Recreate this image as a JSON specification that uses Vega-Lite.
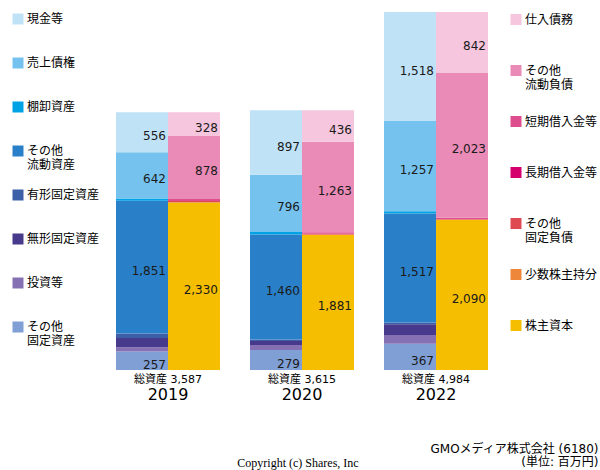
{
  "$schema": "https://vega.github.io/schema/vega-lite/v6.json",
  "width": 402,
  "height": 358,
  "autosize": {"type": "none"},
  "padding": {"left": 101, "top": 12, "right": 97, "bottom": 100},
  "background": "white",
  "config": {
    "view": {"stroke": null},
    "font": "DejaVu Sans, Noto Sans CJK JP, sans-serif"
  },
  "title": {
    "text": "Copyright (c) Shares, Inc",
    "orient": "top",
    "anchor": "middle",
    "frame": "group",
    "font": "Liberation Serif",
    "fontSize": 12,
    "fontWeight": "normal",
    "color": "#000000",
    "baseline": "alphabetic",
    "offset": 0,
    "dx": -4,
    "dy": 485
  },
  "datasets": {
    "bs": [
      {"year": "2019", "side": "資産", "item": "その他固定資産", "k": 1, "value": 257},
      {"year": "2019", "side": "資産", "item": "投資等", "k": 2, "value": 60},
      {"year": "2019", "side": "資産", "item": "無形固定資産", "k": 3, "value": 130},
      {"year": "2019", "side": "資産", "item": "有形固定資産", "k": 4, "value": 60},
      {"year": "2019", "side": "資産", "item": "その他流動資産", "k": 5, "value": 1851},
      {"year": "2019", "side": "資産", "item": "棚卸資産", "k": 6, "value": 31},
      {"year": "2019", "side": "資産", "item": "売上債権", "k": 7, "value": 642},
      {"year": "2019", "side": "資産", "item": "現金等", "k": 8, "value": 556},
      {"year": "2019", "side": "負債", "item": "株主資本", "k": 1, "value": 2330},
      {"year": "2019", "side": "負債", "item": "少数株主持分", "k": 2, "value": 8},
      {"year": "2019", "side": "負債", "item": "その他固定負債", "k": 3, "value": 15},
      {"year": "2019", "side": "負債", "item": "長期借入金等", "k": 4, "value": 0},
      {"year": "2019", "side": "負債", "item": "短期借入金等", "k": 5, "value": 28},
      {"year": "2019", "side": "負債", "item": "その他流動負債", "k": 6, "value": 878},
      {"year": "2019", "side": "負債", "item": "仕入債務", "k": 7, "value": 328},
      {"year": "2020", "side": "資産", "item": "その他固定資産", "k": 1, "value": 279},
      {"year": "2020", "side": "資産", "item": "投資等", "k": 2, "value": 70},
      {"year": "2020", "side": "資産", "item": "無形固定資産", "k": 3, "value": 55},
      {"year": "2020", "side": "資産", "item": "有形固定資産", "k": 4, "value": 22},
      {"year": "2020", "side": "資産", "item": "その他流動資産", "k": 5, "value": 1460},
      {"year": "2020", "side": "資産", "item": "棚卸資産", "k": 6, "value": 36},
      {"year": "2020", "side": "資産", "item": "売上債権", "k": 7, "value": 796},
      {"year": "2020", "side": "資産", "item": "現金等", "k": 8, "value": 897},
      {"year": "2020", "side": "負債", "item": "株主資本", "k": 1, "value": 1881},
      {"year": "2020", "side": "負債", "item": "少数株主持分", "k": 2, "value": 5},
      {"year": "2020", "side": "負債", "item": "その他固定負債", "k": 3, "value": 10},
      {"year": "2020", "side": "負債", "item": "長期借入金等", "k": 4, "value": 0},
      {"year": "2020", "side": "負債", "item": "短期借入金等", "k": 5, "value": 20},
      {"year": "2020", "side": "負債", "item": "その他流動負債", "k": 6, "value": 1263},
      {"year": "2020", "side": "負債", "item": "仕入債務", "k": 7, "value": 436},
      {"year": "2022", "side": "資産", "item": "その他固定資産", "k": 1, "value": 367},
      {"year": "2022", "side": "資産", "item": "投資等", "k": 2, "value": 120},
      {"year": "2022", "side": "資産", "item": "無形固定資産", "k": 3, "value": 150},
      {"year": "2022", "side": "資産", "item": "有形固定資産", "k": 4, "value": 25},
      {"year": "2022", "side": "資産", "item": "その他流動資産", "k": 5, "value": 1517},
      {"year": "2022", "side": "資産", "item": "棚卸資産", "k": 6, "value": 30},
      {"year": "2022", "side": "資産", "item": "売上債権", "k": 7, "value": 1257},
      {"year": "2022", "side": "資産", "item": "現金等", "k": 8, "value": 1518},
      {"year": "2022", "side": "負債", "item": "株主資本", "k": 1, "value": 2090},
      {"year": "2022", "side": "負債", "item": "少数株主持分", "k": 2, "value": 4},
      {"year": "2022", "side": "負債", "item": "その他固定負債", "k": 3, "value": 8},
      {"year": "2022", "side": "負債", "item": "長期借入金等", "k": 4, "value": 0},
      {"year": "2022", "side": "負債", "item": "短期借入金等", "k": 5, "value": 17},
      {"year": "2022", "side": "負債", "item": "その他流動負債", "k": 6, "value": 2023},
      {"year": "2022", "side": "負債", "item": "仕入債務", "k": 7, "value": 842}
    ],
    "totals": [
      {"year": "2019", "label": "総資産 3,587"},
      {"year": "2020", "label": "総資産 3,615"},
      {"year": "2022", "label": "総資産 4,984"}
    ]
  },
  "encoding": {
    "x": {
      "field": "year",
      "type": "nominal",
      "scale": {"paddingInner": 0.224, "paddingOuter": 0.112},
      "axis": {
        "title": ["GMOメディア株式会社 (6180)", "(単位: 百万円)"],
        "labelAngle": 0,
        "domain": false,
        "ticks": false,
        "labelFontSize": 16,
        "labelPadding": 16,
        "labelColor": "#000000",
        "titleX": 497,
        "titleY": 82,
        "titleAlign": "right",
        "titleFontSize": 12,
        "titleFontWeight": "normal",
        "titleColor": "#000000",
        "titleBaseline": "alphabetic",
        "titleLineHeight": 13
      }
    }
  },
  "layer": [
    {
      "data": {"name": "bs"},
      "transform": [{"filter": "datum.side == '資産'"}],
      "mark": {"type": "bar"},
      "encoding": {
        "xOffset": {"field": "side", "type": "nominal", "scale": {"domain": ["資産", "負債"], "paddingInner": 0, "paddingOuter": 0}},
        "y": {"field": "value", "type": "quantitative", "stack": "zero", "scale": {"domain": [0, 4984], "nice": false}, "axis": null},
        "order": {"field": "k", "type": "quantitative"},
        "color": {
          "field": "item",
          "type": "nominal",
          "scale": {
            "domain": ["現金等", "売上債権", "棚卸資産", "その他流動資産", "有形固定資産", "無形固定資産", "投資等", "その他固定資産"],
            "range": ["#c0e2f7", "#75c2ef", "#00a2e6", "#2a80c8", "#3c5fa8", "#473a8c", "#8470b2", "#7f9fd5"]
          },
          "legend": {
            "orient": "none",
            "legendX": -89,
            "legendY": -15,
            "title": null,
            "padding": 0,
            "clipHeight": 44,
            "rowPadding": 0,
            "symbolType": "square",
            "symbolSize": 121,
            "symbolStrokeWidth": 0,
            "symbolOpacity": 1,
            "labelFontSize": 12,
            "labelColor": "#000000",
            "labelOffset": 3,
            "labelBaseline": "alphabetic",
            "labelLimit": 0,
            "labelExpr": "datum.label == 'その他流動資産' ? ['その他', '流動資産'] : datum.label == 'その他固定資産' ? ['その他', '固定資産'] : datum.label",
            "encode": {"labels": {"update": {"dy": {"value": 4}}}}
          }
        }
      }
    },
    {
      "data": {"name": "bs"},
      "transform": [{"filter": "datum.side == '負債'"}],
      "mark": {"type": "bar"},
      "encoding": {
        "xOffset": {"field": "side", "type": "nominal", "scale": {"domain": ["資産", "負債"], "paddingInner": 0, "paddingOuter": 0}},
        "y": {"field": "value", "type": "quantitative", "stack": "zero"},
        "order": {"field": "k", "type": "quantitative"},
        "color": {
          "field": "item",
          "type": "nominal",
          "scale": {
            "domain": ["仕入債務", "その他流動負債", "短期借入金等", "長期借入金等", "その他固定負債", "少数株主持分", "株主資本"],
            "range": ["#f5c6dd", "#e98bb6", "#de4d8e", "#d6006d", "#df4a52", "#ee873a", "#f6be00"]
          },
          "legend": {
            "orient": "none",
            "legendX": 409,
            "legendY": -18,
            "title": null,
            "padding": 0,
            "clipHeight": 51,
            "rowPadding": 0,
            "symbolType": "square",
            "symbolSize": 121,
            "symbolStrokeWidth": 0,
            "symbolOpacity": 1,
            "labelFontSize": 12,
            "labelColor": "#000000",
            "labelOffset": 3,
            "labelBaseline": "alphabetic",
            "labelLimit": 0,
            "labelExpr": "datum.label == 'その他流動負債' ? ['その他', '流動負債'] : datum.label == 'その他固定負債' ? ['その他', '固定負債'] : datum.label",
            "encode": {"labels": {"update": {"dy": {"value": 4}}}}
          }
        }
      }
    },
    {
      "data": {"name": "bs"},
      "mark": {"type": "text", "align": "right", "baseline": "middle", "dx": 24, "dy": 4, "fontSize": 12, "color": "#1a1a1a"},
      "encoding": {
        "xOffset": {"field": "side", "type": "nominal", "scale": {"domain": ["資産", "負債"], "paddingInner": 0, "paddingOuter": 0}},
        "y": {"field": "value", "type": "quantitative", "stack": "zero", "bandPosition": 0.5},
        "detail": {"field": "item"},
        "order": {"field": "k", "type": "quantitative"},
        "text": {
          "condition": {"test": "datum.value >= 200", "field": "value", "type": "quantitative", "format": ","},
          "value": ""
        }
      }
    },
    {
      "data": {"name": "totals"},
      "mark": {"type": "text", "baseline": "middle", "dy": 10, "fontSize": 11, "color": "#000000"},
      "encoding": {
        "y": {"datum": 0, "type": "quantitative"},
        "text": {"field": "label"}
      }
    }
  ],
  "resolve": {"scale": {"color": "independent"}}
}
